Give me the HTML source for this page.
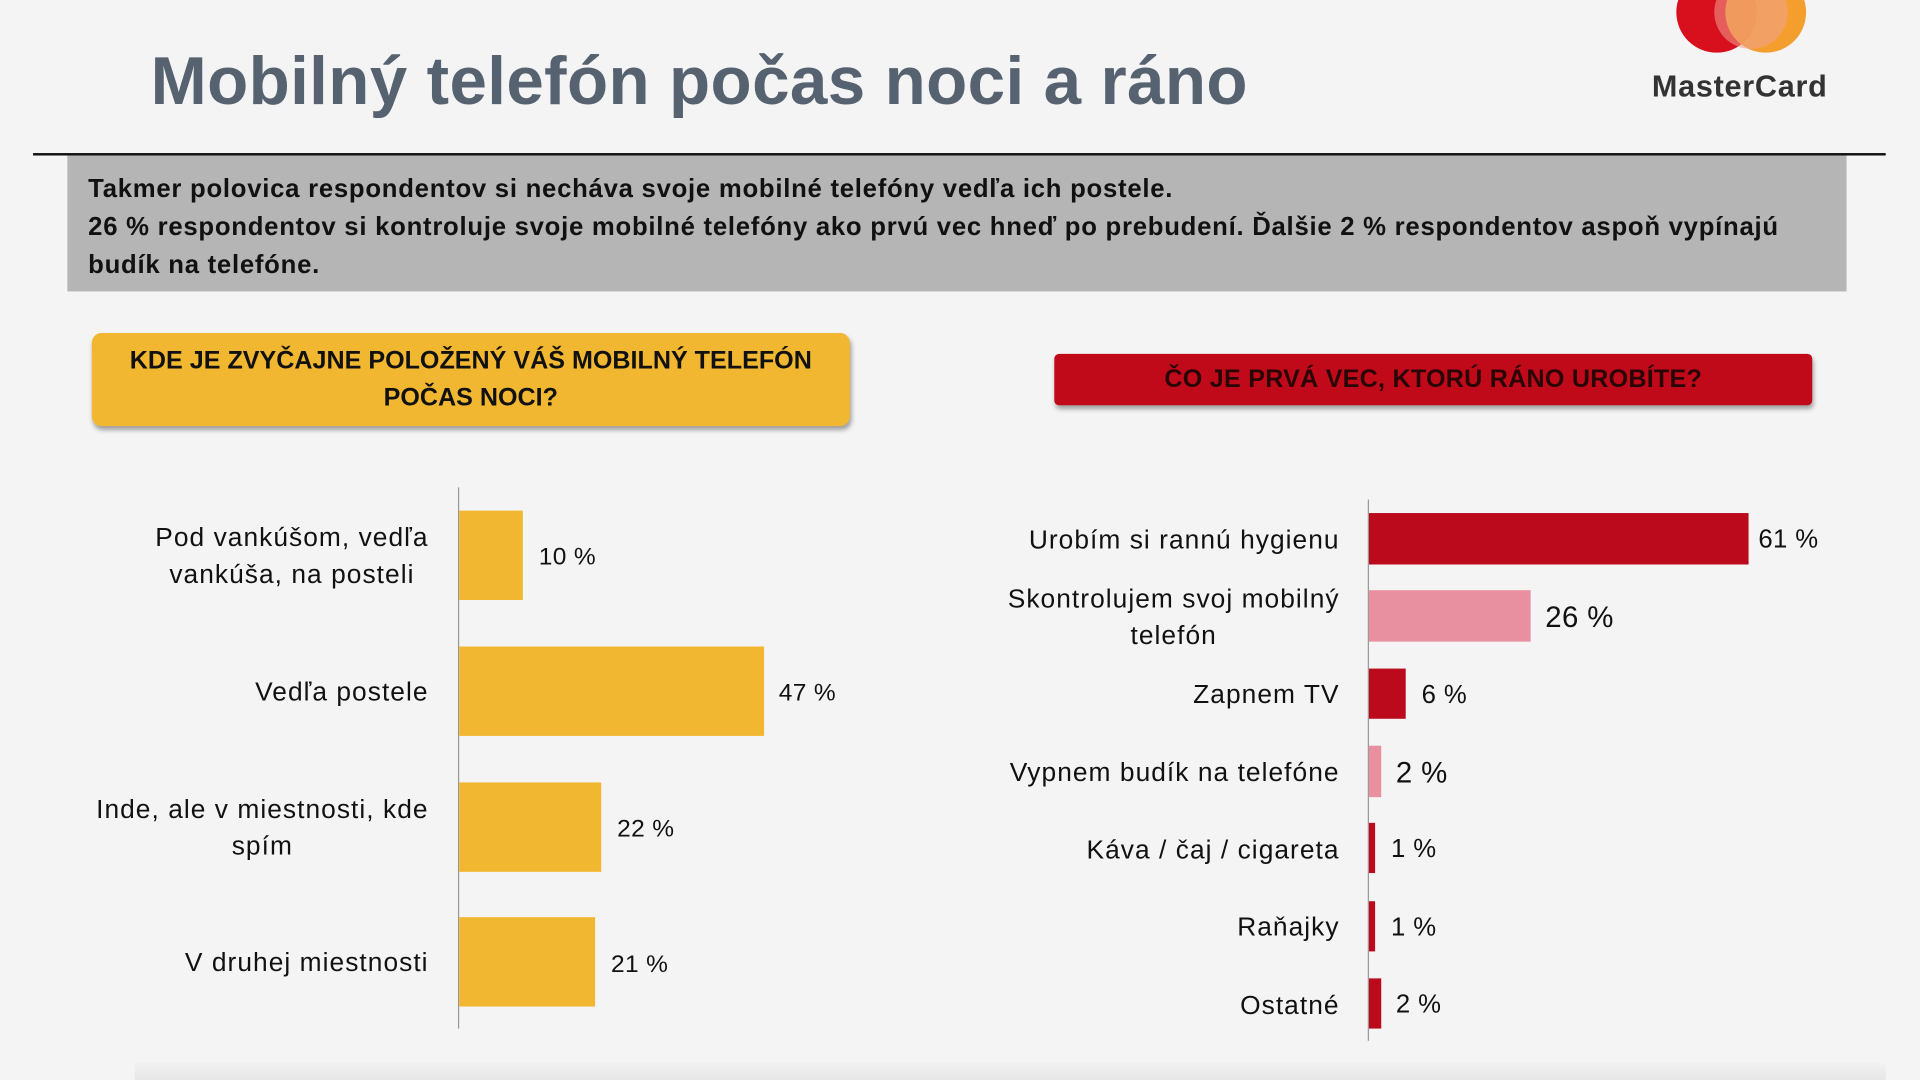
<!DOCTYPE html>
<html><head><meta charset="utf-8"><style>
html,body{margin:0;padding:0;width:1920px;height:1080px;overflow:hidden;background:#f4f4f4}
#w{position:absolute;left:0;top:0;width:1568px;height:882px;transform:scale(1.22449);transform-origin:0 0;font-family:"Liberation Sans",sans-serif}
.a{position:absolute}
.lbl{position:absolute;text-align:center;font-size:21.5px;letter-spacing:0.85px;color:#111;line-height:30px;white-space:nowrap}
.v{position:absolute;font-size:20px;color:#111;line-height:30px;letter-spacing:0.3px}
</style></head><body><div id="w">
<div class="a" style="left:123px;top:34px;font-size:55px;font-weight:bold;color:#566270;white-space:nowrap;letter-spacing:0.3px">Mobilný telefón počas noci a ráno</div>
<svg class="a" style="left:1360px;top:-20px" width="130" height="80">
<circle cx="42" cy="30" r="33" fill="#d80f1c"/>
<circle cx="82" cy="30" r="33" fill="#f39a22" opacity="0.95"/>
<circle cx="70" cy="30" r="30" fill="#f0a090" opacity="0.55"/>
</svg>
<div class="a" style="left:1349px;top:57px;font-size:25px;font-weight:bold;color:#333;letter-spacing:0.6px">MasterCard</div>
<div class="a" style="left:27px;top:125px;width:1513px;height:2px;background:#111"></div>
<div class="a" style="left:55px;top:127px;width:1453px;height:111px;background:#b5b5b5"></div>
<div class="a" style="left:72px;top:139px;font-size:21px;letter-spacing:0.6px;font-weight:bold;color:#111;line-height:31px;width:1420px">Takmer polovica respondentov si necháva svoje mobilné telefóny vedľa ich postele.<br>26 % respondentov si kontroluje svoje mobilné telefóny ako prvú vec hneď po prebudení. Ďalšie 2 % respondentov aspoň vypínajú budík na telefóne.</div>
<div class="a" style="left:75px;top:272px;width:619px;height:76px;background:#f2b731;border-radius:8px;box-shadow:1px 3px 4px rgba(0,0,0,.35);text-align:center;font-size:20.5px;letter-spacing:0px;font-weight:bold;line-height:30px;color:#111;padding-top:8px;box-sizing:border-box">KDE JE ZVYČAJNE POLOŽENÝ VÁŠ MOBILNÝ TELEFÓN<br>POČAS NOCI?</div>
<div class="a" style="left:861px;top:289px;width:619px;height:42px;background:#c00a1a;border-radius:4px;box-shadow:1px 3px 4px rgba(0,0,0,.35);text-align:center;font-size:20.5px;letter-spacing:0.2px;font-weight:bold;line-height:42px;color:#2a0505">ČO JE PRVÁ VEC, KTORÚ RÁNO UROBÍTE?</div>

<div class="a" style="left:374px;top:398px;width:1px;height:442px;background:#999"></div>
<div class="a" style="left:375px;top:417px;width:52px;height:73px;background:#f2b731"></div>
<div class="a" style="left:375px;top:528px;width:249px;height:73px;background:#f2b731"></div>
<div class="a" style="left:375px;top:639px;width:116px;height:73px;background:#f2b731"></div>
<div class="a" style="left:375px;top:749px;width:111px;height:73px;background:#f2b731"></div>
<div class="lbl" style="right:1218px;top:424px">Pod vankúšom, vedľa<br>vankúša, na posteli</div>
<div class="lbl" style="right:1218px;top:550px">Vedľa postele</div>
<div class="lbl" style="right:1218px;top:646px">Inde, ale v miestnosti, kde<br>spím</div>
<div class="lbl" style="right:1218px;top:771px">V druhej miestnosti</div>
<div class="v" style="left:440px;top:440px;font-family:'Liberation Sans Narrow','Liberation Sans',sans-serif">10 %</div>
<div class="v" style="left:636px;top:551px;font-family:'Liberation Sans Narrow','Liberation Sans',sans-serif">47 %</div>
<div class="v" style="left:504px;top:662px;font-family:'Liberation Sans Narrow','Liberation Sans',sans-serif">22 %</div>
<div class="v" style="left:499px;top:773px;font-family:'Liberation Sans Narrow','Liberation Sans',sans-serif">21 %</div>

<div class="a" style="left:1117px;top:408px;width:1px;height:442px;background:#999"></div>
<div class="a" style="left:1118px;top:419px;width:310px;height:42px;background:#bb0a1c"></div>
<div class="a" style="left:1118px;top:482px;width:132px;height:42px;background:#e8909f"></div>
<div class="a" style="left:1118px;top:546px;width:30px;height:41px;background:#bb0a1c"></div>
<div class="a" style="left:1118px;top:609px;width:10px;height:42px;background:#e8909f"></div>
<div class="a" style="left:1118px;top:672px;width:5px;height:41px;background:#bb0a1c"></div>
<div class="a" style="left:1118px;top:736px;width:5px;height:41px;background:#bb0a1c"></div>
<div class="a" style="left:1118px;top:799px;width:10px;height:41px;background:#bb0a1c"></div>
<div class="lbl" style="right:474px;top:426px">Urobím si rannú hygienu</div>
<div class="lbl" style="right:474px;top:474px">Skontrolujem svoj mobilný<br>telefón</div>
<div class="lbl" style="right:474px;top:552px">Zapnem TV</div>
<div class="lbl" style="right:474px;top:616px">Vypnem budík na telefóne</div>
<div class="lbl" style="right:474px;top:679px">Káva / čaj / cigareta</div>
<div class="lbl" style="right:474px;top:742px">Raňajky</div>
<div class="lbl" style="right:474px;top:806px">Ostatné</div>
<div class="v" style="left:1436px;top:426px;font-size:21px">61 %</div>
<div class="v" style="left:1262px;top:490px;font-size:24px">26 %</div>
<div class="v" style="left:1161px;top:553px;font-size:21px">6 %</div>
<div class="v" style="left:1140px;top:617px;font-size:24px">2 %</div>
<div class="v" style="left:1136px;top:679px;font-size:21px">1 %</div>
<div class="v" style="left:1136px;top:743px;font-size:21px">1 %</div>
<div class="v" style="left:1140px;top:806px;font-size:21px">2 %</div>
<div class="a" style="left:110px;top:868px;width:1430px;height:14px;background:linear-gradient(#f2f2f2,#e6e6e6)"></div>
</div></body></html>
